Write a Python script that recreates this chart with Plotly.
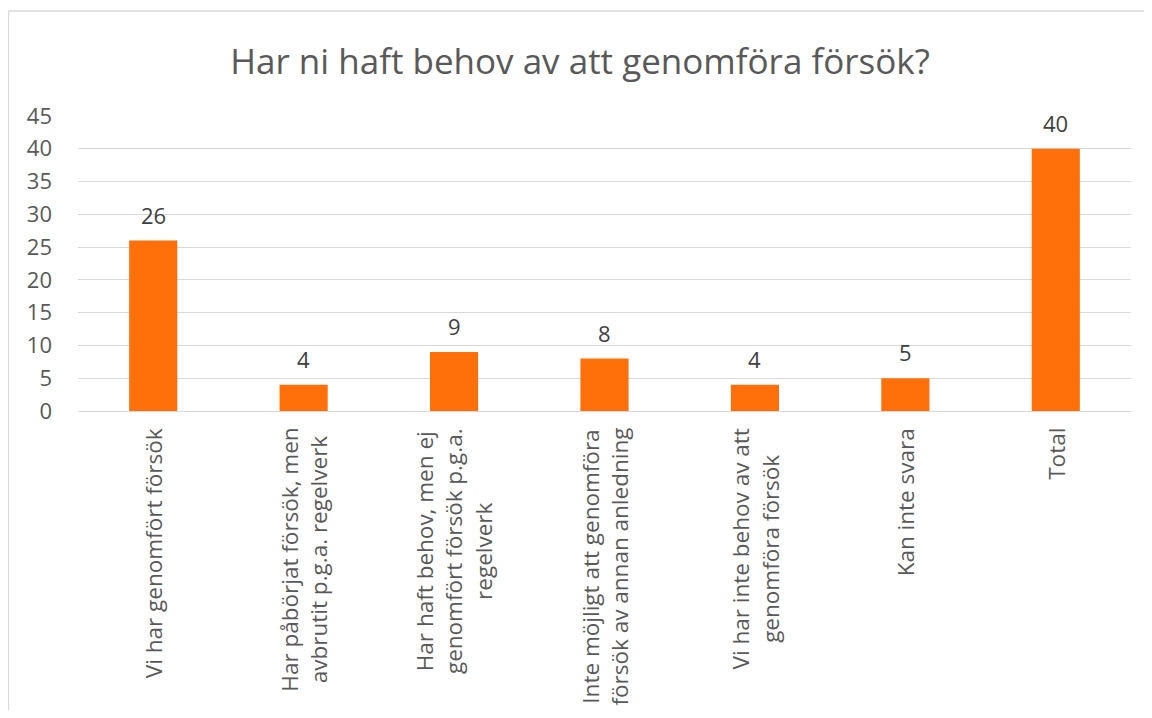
import plotly.graph_objects as go

categories = [
    "Vi har genomfört försök",
    "Har påbörjat försök, men avbrutit p.g.a. regelverk",
    "Har haft behov, men ej genomfört försök p.g.a. regelverk",
    "Inte möjligt att genomföra försök av annan anledning",
    "Vi har inte behov av att genomföra försök",
    "Kan inte svara",
    "Total",
]
tick_labels = [
    "Vi har genomfört försök",
    "Har påbörjat försök, men<br>avbrutit p.g.a. regelverk",
    "Har haft behov, men ej<br>genomfört försök p.g.a.<br>regelverk",
    "Inte möjligt att genomföra<br>försök av annan anledning",
    "Vi har inte behov av att<br>genomföra försök",
    "Kan inte svara",
    "Total",
]
values = [26, 4, 9, 8, 4, 5, 40]
y_ticks = [0, 5, 10, 15, 20, 25, 30, 35, 40, 45]

FONT = "Open Sans"
W, H = 1136, 702
L, R, T, B = 70, 13, 108, 299
pw = W - L - R
ph = H - T - B

fig = go.Figure(go.Bar(
    x=categories, y=values,
    marker=dict(color="#FF700A", line=dict(width=0)),
    hoverinfo="x+y",
))

# data labels
for cat, v in zip(categories, values):
    fig.add_annotation(
        x=cat, y=v, xref="x", yref="y", yshift=9,
        text=str(v), showarrow=False,
        xanchor="center", yanchor="bottom",
        font=dict(family=FONT, size=22, color="#404040"),
    )

# category labels
for cat, lab in zip(categories, tick_labels):
    fig.add_annotation(
        x=cat, y=0, xref="x", yref="y", yshift=-15,
        text=lab, textangle=-90, showarrow=False,
        xanchor="center", yanchor="top", align="center",
        font=dict(family=FONT, size=22.5, color="#595959"),
    )

# chart border (top and left edges visible)
bx0 = (0.5 - L) / pw
bx1 = (W + 40 - L) / pw
by0 = (ph + T - H - 40) / ph
by1 = (ph + T - 3) / ph
for (xa, ya, xb, yb) in [(bx0, by1, bx1, by1), (bx0, by0, bx0, by1)]:
    fig.add_shape(type="line", xref="paper", yref="paper",
                  x0=xa, y0=ya, x1=xb, y1=yb,
                  line=dict(color="#D9D9D9", width=1.3), layer="below")

fig.update_layout(
    width=W, height=H,
    margin=dict(l=L, r=R, t=T, b=B),
    paper_bgcolor="white", plot_bgcolor="white",
    bargap=0.68,
    showlegend=False,
    title=dict(text="Har ni haft behov av att genomföra försök?",
               x=(W / 2 + 4) / W, xanchor="center", y=1 - 54 / H, yanchor="middle",
               font=dict(family=FONT, size=35, color="#595959")),
    font=dict(family=FONT, color="#595959"),
)
fig.update_xaxes(showticklabels=False, showline=True, linecolor="#D9D9D9", linewidth=1.3,
                 ticks="", showgrid=False)
fig.update_yaxes(range=[0, 45], tickvals=y_ticks, showgrid=True, gridcolor="#D9D9D9",
                 gridwidth=1.3, zeroline=False, showline=False, ticks="",
                 tickfont=dict(family=FONT, size=22, color="#595959"),
                 ticklabelstandoff=25)

fig.write_html("out.html")
